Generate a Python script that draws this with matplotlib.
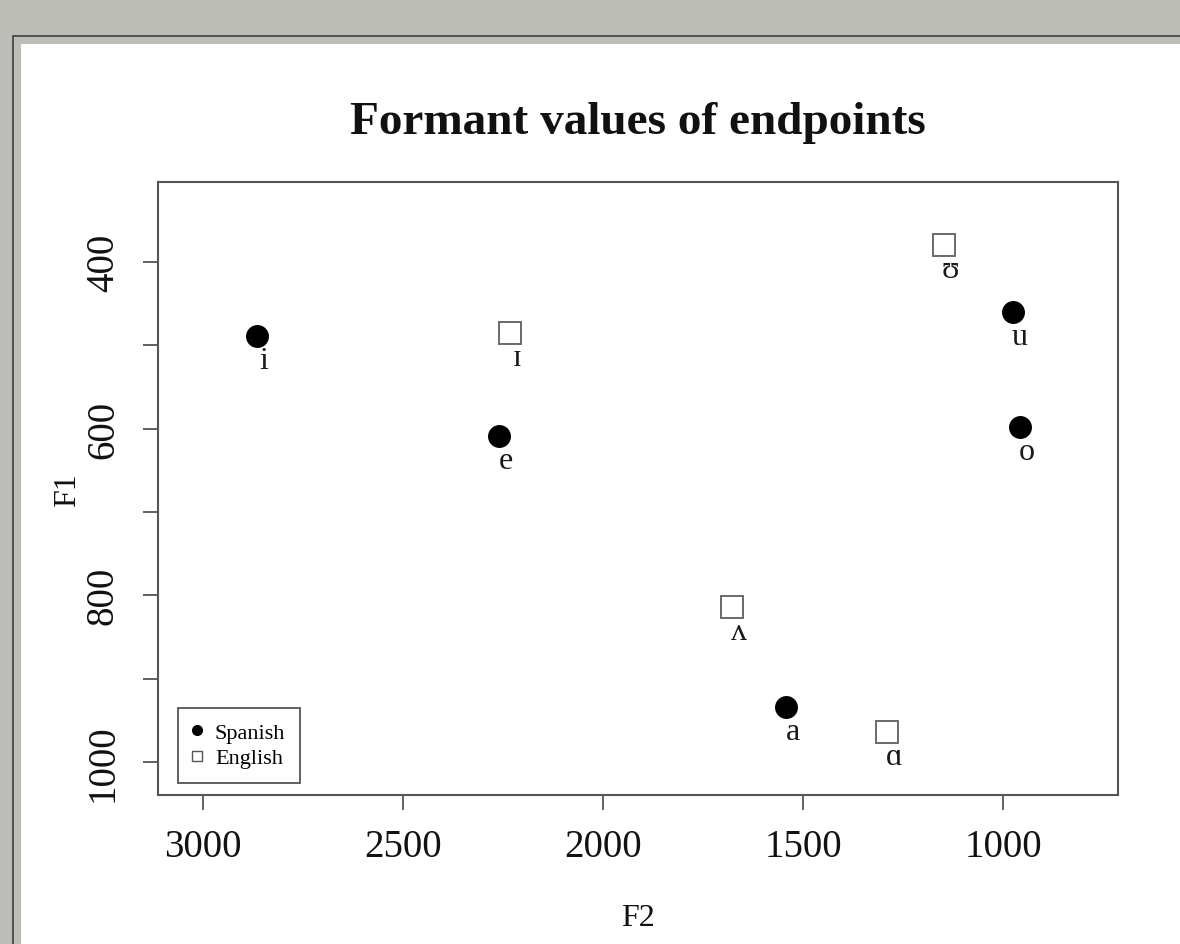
import matplotlib
matplotlib.use("Agg")
import matplotlib.pyplot as plt
from matplotlib.patches import Rectangle
from matplotlib.lines import Line2D

# ---- data ----
spanish_labels = ["i", "e", "a", "u", "o"]
spanish_f2 = [2865, 2260, 1542, 975, 958]
spanish_f1 = [489, 609, 934, 460, 598]

english_labels = ["ɪ", "ʊ", "ʌ", "ɑ"]
english_f2 = [2233, 1148, 1678, 1290]
english_f1 = [485, 380, 814, 964]

x_ticks = [3000, 2500, 2000, 1500, 1000]
y_ticks = [400, 500, 600, 700, 800, 900, 1000]
y_ticklabels = ["400", "", "600", "", "800", "", "1000"]

SERIF = ["Liberation Serif", "DejaVu Serif"]
plt.rcParams["font.family"] = SERIF

W, H = 1180, 945
fig = plt.figure(figsize=(W / 100, H / 100), dpi=100)
fig.patch.set_facecolor("#bbbdb6")

def px_rect(x0, y0, x1, y1, color):
    fig.patches.append(Rectangle((x0 / W, 1 - y1 / H), (x1 - x0) / W, (y1 - y0) / H,
                                 transform=fig.transFigure, facecolor=color,
                                 edgecolor="none", zorder=-10))

px_rect(12, 36, W + 5, H + 5, "#50544e")
px_rect(14, 38, W + 5, H + 5, "#bbbdb6")
px_rect(21, 45, W + 5, H + 5, "white")

ax = fig.add_axes([158 / W, 1 - 796 / H, (1118 - 158) / W, (796 - 183) / H])
ax.set_facecolor("white")

ax.plot(spanish_f2, spanish_f1, linestyle="none", marker="o", markersize=15.5,
        color="black", zorder=3)
ax.plot(english_f2, english_f1, linestyle="none", marker="s", markersize=16,
        markerfacecolor="white", markeredgecolor="#6a6a6a", markeredgewidth=1.4, zorder=3)

for lab, x, y in zip(spanish_labels, spanish_f2, spanish_f1):
    ax.annotate(lab, (x, y), xytext=(5, -23), textcoords="offset points",
                ha="center", va="baseline", fontsize=23, color="#1a1a1a")
for lab, x, y in zip(english_labels, english_f2, english_f1):
    ax.annotate(lab, (x, y), xytext=(5, -23), textcoords="offset points",
                ha="center", va="baseline", fontsize=23, color="#1a1a1a")

ax.set_xlim(3112.5, 712.5)
ax.set_ylim(1039.6, 304)

ax.set_xticks(x_ticks)
ax.set_xticklabels([str(t) for t in x_ticks])
ax.set_yticks(y_ticks)
ax.set_yticklabels(y_ticklabels, rotation=90, va="center")

for sp in ax.spines.values():
    sp.set_color("#555555")
    sp.set_linewidth(1.5)
ax.tick_params(axis="both", direction="out", length=11, width=1.3, color="#555555",
               labelsize=28, labelcolor="#111111", pad=13)
ax.tick_params(axis="y", pad=15)

# titles / axis labels placed at measured pixel positions
fig.text(638 / W, 1 - 134 / H, "Formant values of endpoints", fontsize=34,
         fontweight="bold", ha="center", va="baseline", color="#111111")
fig.text(638 / W, 1 - 926 / H, "F2", fontsize=23, ha="center", va="baseline",
         color="#111111")
fig.text(68 / W, 1 - 490 / H, "F1", fontsize=23, ha="center", va="center",
         rotation=90, color="#111111")

handles = [
    Line2D([], [], linestyle="none", marker="o", markersize=7, color="black"),
    Line2D([], [], linestyle="none", marker="s", markersize=7, markerfacecolor="white",
           markeredgecolor="#555555", markeredgewidth=1.0),
]
leg = ax.legend(handles, ["Spanish", "English"], loc="lower left",
                bbox_to_anchor=(20 / 960, 12 / 613), borderaxespad=0,
                fontsize=16, fancybox=False, framealpha=1, edgecolor="#555555",
                handlelength=0.4, handletextpad=0.6, labelspacing=0.22,
                borderpad=0.66)
leg.get_frame().set_linewidth(1.3)

fig.savefig("out.png", dpi=100, facecolor=fig.get_facecolor())
